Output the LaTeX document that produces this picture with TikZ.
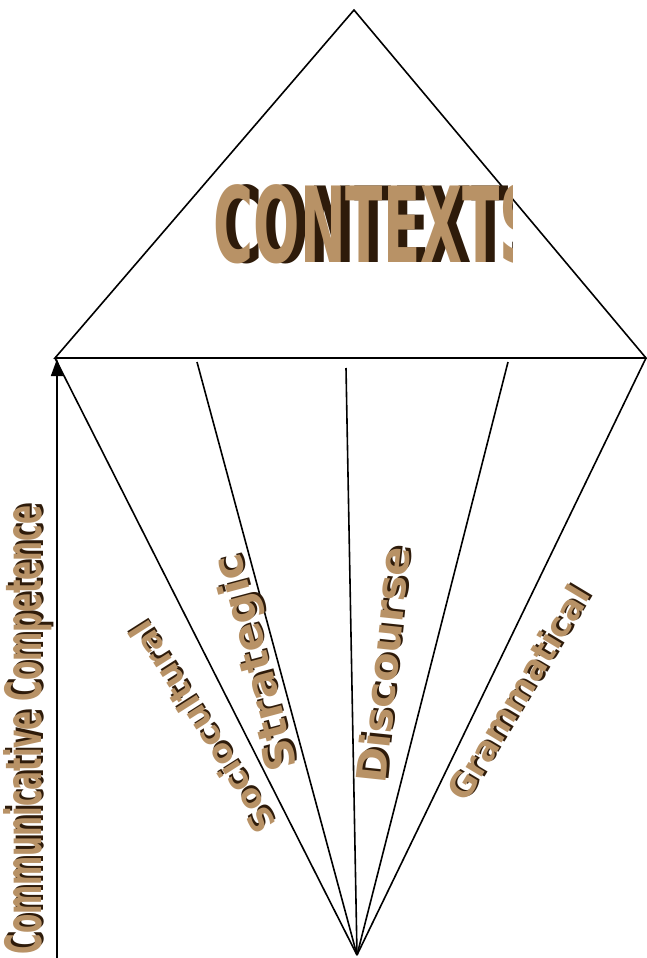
\documentclass[tikz,border=0pt]{standalone}
\usepackage{fontspec}
\newfontfamily\wafont{DejaVu Sans}
\usetikzlibrary{arrows.meta}
\definecolor{wtan}{RGB}{184,146,102}
\definecolor{wdark}{RGB}{46,27,10}
\newcommand\wa[3]{%
  \rlap{\kern#1\raisebox{#2}{\color{wdark}#3}}%
  {\color{wtan}#3}}
\begin{document}
\begin{tikzpicture}[x=1pt,y=-1pt,line width=1.6pt,
  lbl/.style={inner sep=0pt},
  wfont/.style={font=\wafont\bfseries\fontsize{#1}{#1}\selectfont}]
\useasboundingbox (0,0) rectangle (647,958);
% frame points
\coordinate (apex) at (354,10);
\coordinate (bl) at (55,358);
\coordinate (br) at (646,358);
\coordinate (bot) at (357,955);
\coordinate (f2) at (197,362);
\coordinate (f3) at (346,368);
\coordinate (f4) at (508,362);
\coordinate (arrS) at (57,960);
\coordinate (arrE) at (57,359);
% triangle
\draw (bl) -- (apex) -- (br) -- cycle;
% fan
\draw (bot) -- (bl);
\draw (bot) -- (f2);
\draw (bot) -- (f3);
\draw (bot) -- (f4);
\draw (bot) -- (br);
% arrow
\draw[-{Triangle[width=12pt,length=17pt]}] (arrS) -- (arrE);
% CONTEXT
\begin{scope}
\clip (0,0) rectangle (512,958);
\node[lbl,wfont=105,anchor=base west] (ctx) at (213,262)
  {\wa{9pt}{0pt}{\scalebox{0.52}[1]{CONTEXTS}}};
\end{scope}
% labels
\node[lbl,wfont=50,rotate=90] (comm) at (29,730)
  {\wa{2.5pt}{-2pt}{\scalebox{0.56}[1]{Communicative Competence}}};
\node[lbl,wfont=33,rotate=122.5] (socio) at (203,727)
  {\wa{2pt}{-2pt}{Sociocultural}};
\node[lbl,wfont=42,rotate=105] (strat) at (259,662)
  {\wa{2pt}{-2pt}{\scalebox{1.02}[1]{Strategic}}};
\node[lbl,wfont=41,rotate=84] (disc) at (384,665)
  {\wa{2.5pt}{-2pt}{\scalebox{1.05}[1]{Discourse}}};
\node[lbl,wfont=34,rotate=59] (gram) at (519,693)
  {\wa{2pt}{-2pt}{Grammatical}};
\end{tikzpicture}
\end{document}
